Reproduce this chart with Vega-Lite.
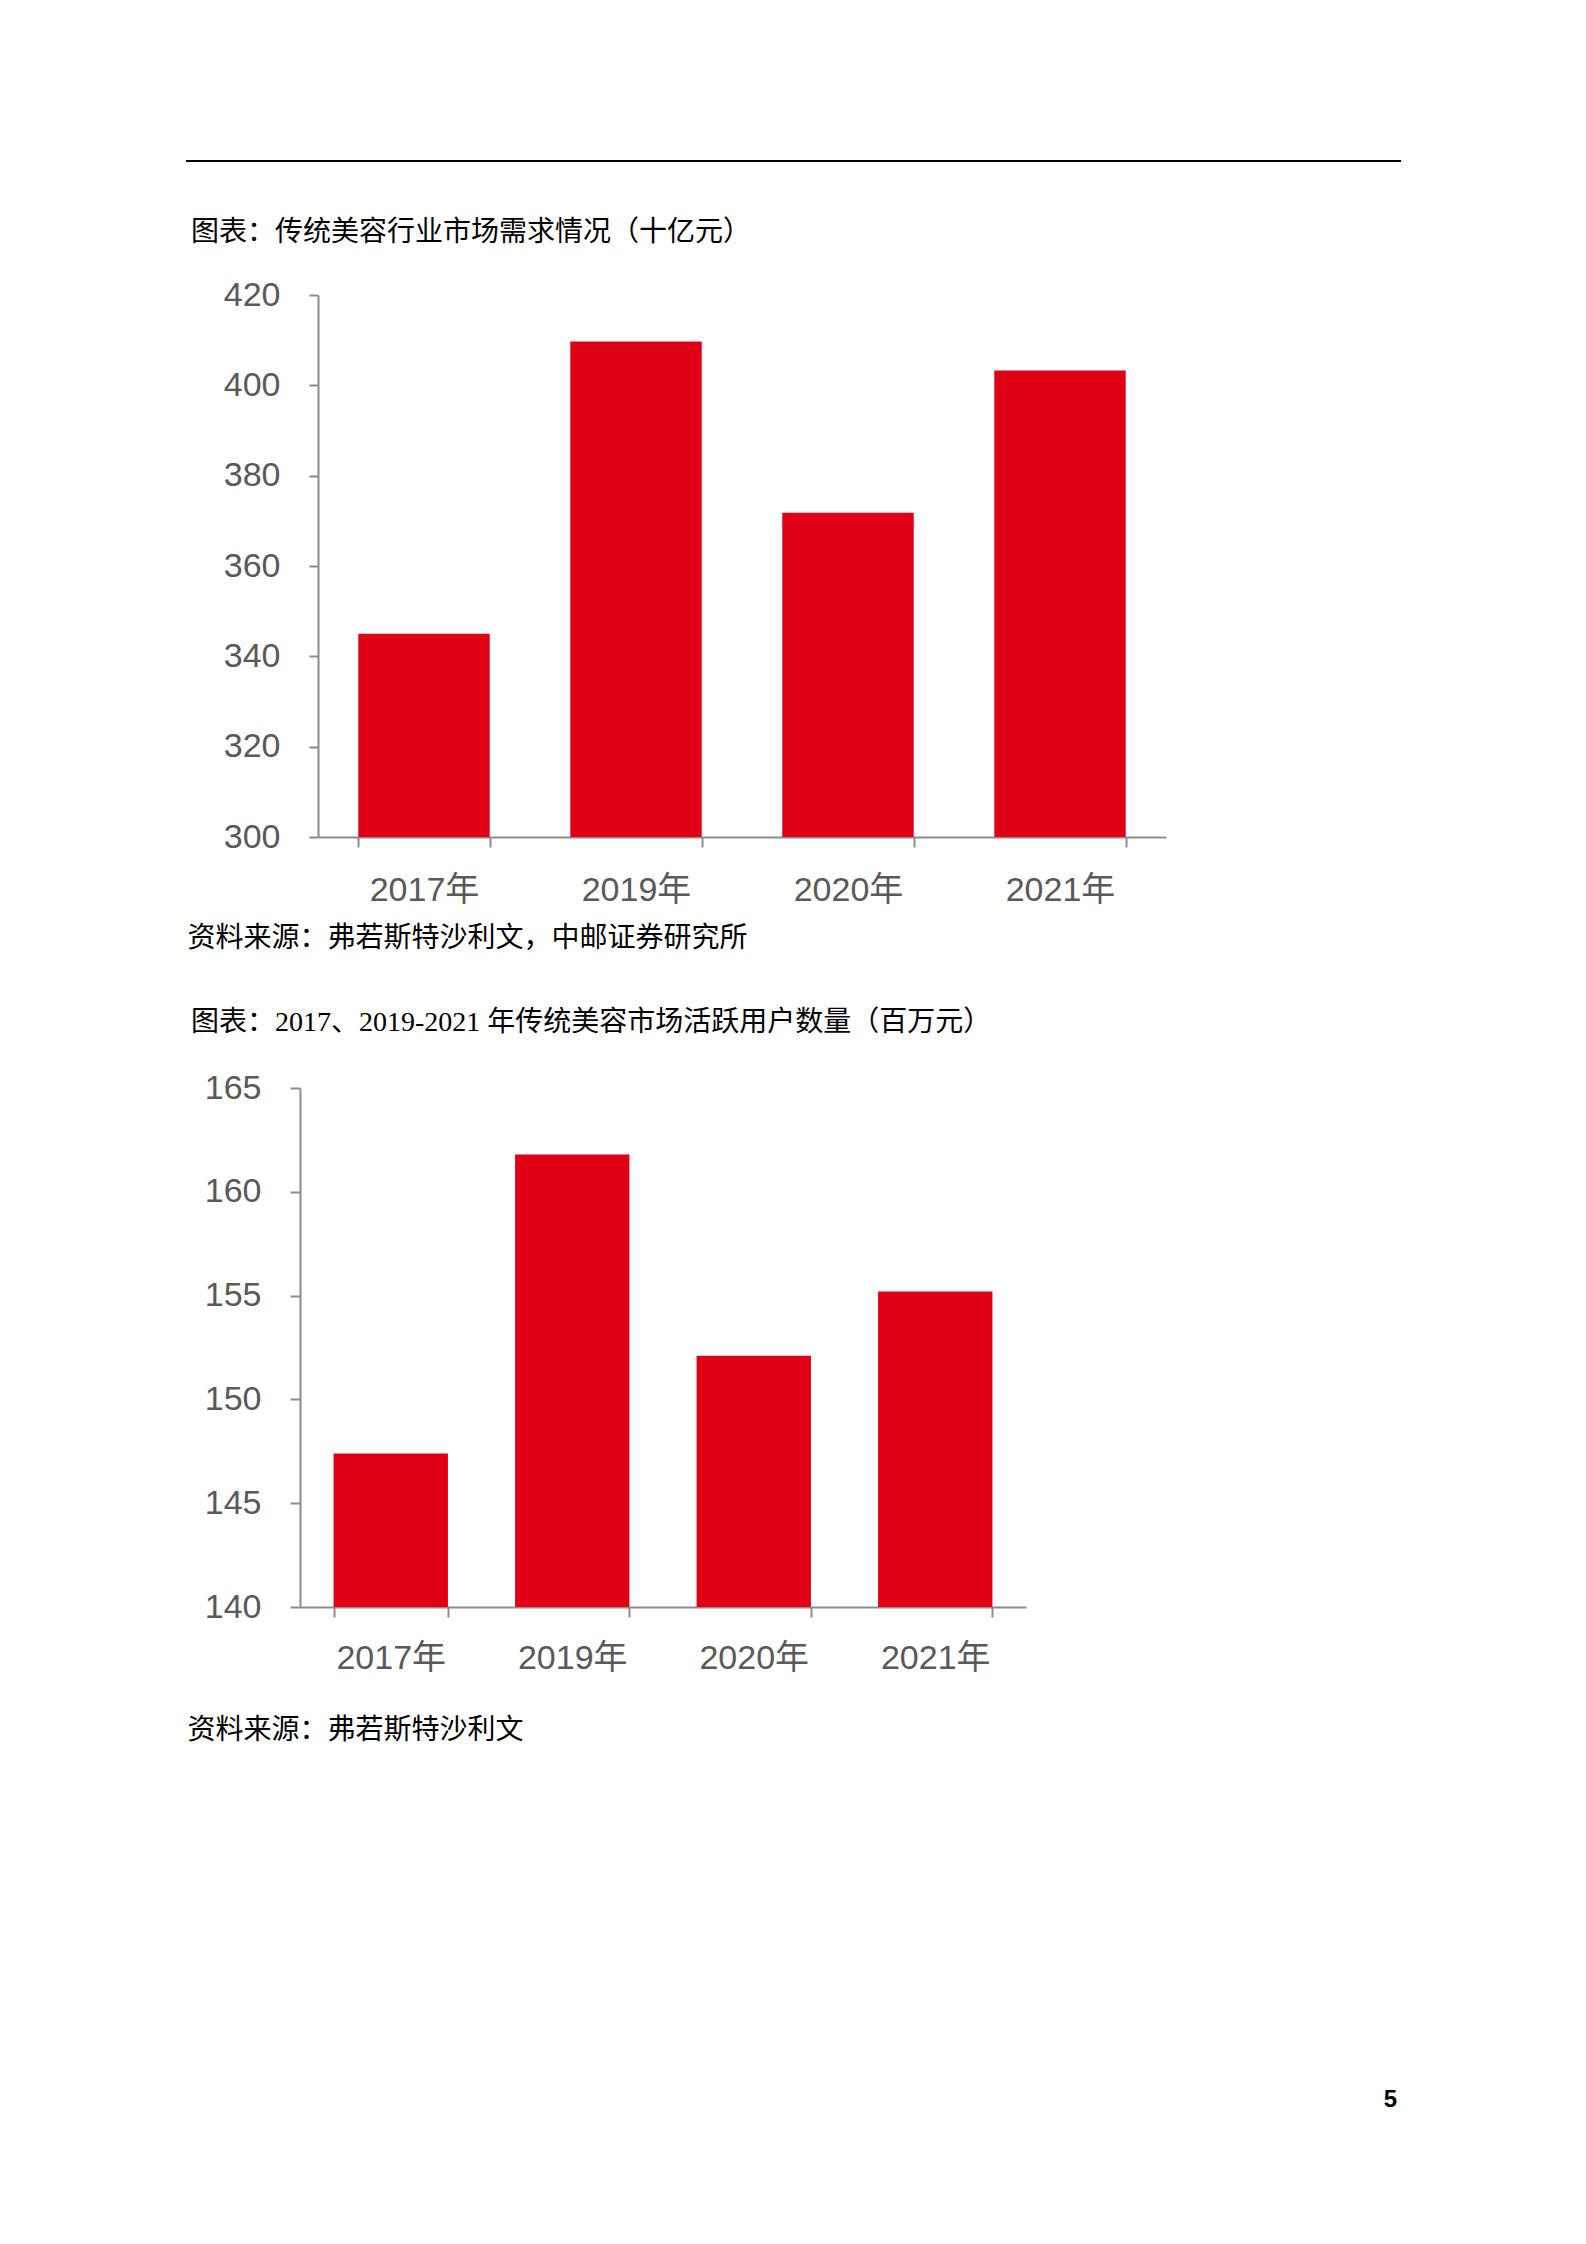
{
  "$schema": "https://vega.github.io/schema/vega-lite/v6.json",
  "background": "white",
  "padding": {"left": 185, "top": 160, "right": 0, "bottom": 0},
  "title": {
    "text": "5",
    "orient": "bottom",
    "anchor": "end",
    "frame": "bounds",
    "offset": 344,
    "dx": -5,
    "font": "Liberation Sans",
    "fontSize": 24,
    "fontWeight": "bold",
    "color": "#000000"
  },
  "spacing": 57,
  "config": {
    "view": {"stroke": null},
    "title": {
      "font": "Liberation Serif, Noto Sans CJK SC",
      "fontSize": 28,
      "fontWeight": "normal",
      "color": "#000000",
      "anchor": "start",
      "frame": "group"
    },
    "axis": {
      "labelFont": "Liberation Sans, Noto Sans CJK SC",
      "labelFontSize": 34,
      "labelColor": "#595959",
      "domainColor": "#8c8c8c",
      "domainWidth": 2,
      "tickColor": "#8c8c8c",
      "tickWidth": 2,
      "grid": false,
      "titleFont": "Liberation Serif, Noto Sans CJK SC",
      "titleFontSize": 28,
      "titleFontWeight": "normal",
      "titleColor": "#000000"
    }
  },
  "vconcat": [
    {
      "width": 1215,
      "height": 1,
      "data": {"values": [{"line": "top"}]},
      "mark": {"type": "rule", "color": "#000000", "strokeWidth": 2},
      "encoding": {
        "y": {"datum": 0, "type": "quantitative", "scale": {"domain": [0, 1]}, "axis": null}
      }
    },
    {
      "spacing": 0,
      "hconcat": [
        {
          "width": 1,
          "height": 1,
          "data": {"values": []},
          "mark": "point"
        },
        {
          "width": 848,
          "height": 542,
          "title": {"text": "图表：传统美容行业市场需求情况（十亿元）", "dx": -127, "offset": 31},
          "data": {
            "values": [
              {"year": "2017年", "value": 345.0},
              {"year": "2019年", "value": 409.7},
              {"year": "2020年", "value": 371.8},
              {"year": "2021年", "value": 403.3}
            ]
          },
          "mark": {"type": "bar", "color": "#E00016", "clip": true},
          "encoding": {
            "x": {
              "field": "year",
              "type": "nominal",
              "sort": null,
              "scale": {"paddingInner": 0.38, "paddingOuter": 0.19},
              "axis": {
                "title": "资料来源：弗若斯特沙利文，中邮证券研究所",
                "titleAnchor": "start",
                "titleAlign": "left",
                "titleX": -131,
                "titlePadding": 17,
                "labelAngle": 0,
                "tickBand": "extent",
                "tickSize": 10,
                "labelPadding": 26
              }
            },
            "y": {
              "field": "value",
              "type": "quantitative",
              "scale": {"domain": [300, 420], "nice": false, "zero": false},
              "axis": {
                "title": null,
                "values": [300, 320, 340, 360, 380, 400, 420],
                "tickSize": 9,
                "labelPadding": 29
              }
            }
          }
        }
      ]
    },
    {
      "spacing": 0,
      "hconcat": [
        {
          "width": 1,
          "height": 1,
          "data": {"values": []},
          "mark": "point"
        },
        {
          "width": 726,
          "height": 519,
          "title": {"text": "图表：2017、2019-2021 年传统美容市场活跃用户数量（百万元）", "dx": -109, "offset": 34},
          "data": {
            "values": [
              {"year": "2017年", "value": 147.4},
              {"year": "2019年", "value": 161.8},
              {"year": "2020年", "value": 152.1},
              {"year": "2021年", "value": 155.2}
            ]
          },
          "mark": {"type": "bar", "color": "#E00016", "clip": true},
          "encoding": {
            "x": {
              "field": "year",
              "type": "nominal",
              "sort": null,
              "scale": {"paddingInner": 0.37, "paddingOuter": 0.185},
              "axis": {
                "title": "资料来源：弗若斯特沙利文",
                "titleAnchor": "start",
                "titleAlign": "left",
                "titleX": -113,
                "titlePadding": 41,
                "labelAngle": 0,
                "tickBand": "extent",
                "tickSize": 10,
                "labelPadding": 24
              }
            },
            "y": {
              "field": "value",
              "type": "quantitative",
              "scale": {"domain": [140, 165], "nice": false, "zero": false},
              "axis": {
                "title": null,
                "values": [140, 145, 150, 155, 160, 165],
                "tickSize": 10,
                "labelPadding": 29
              }
            }
          }
        }
      ]
    }
  ]
}
